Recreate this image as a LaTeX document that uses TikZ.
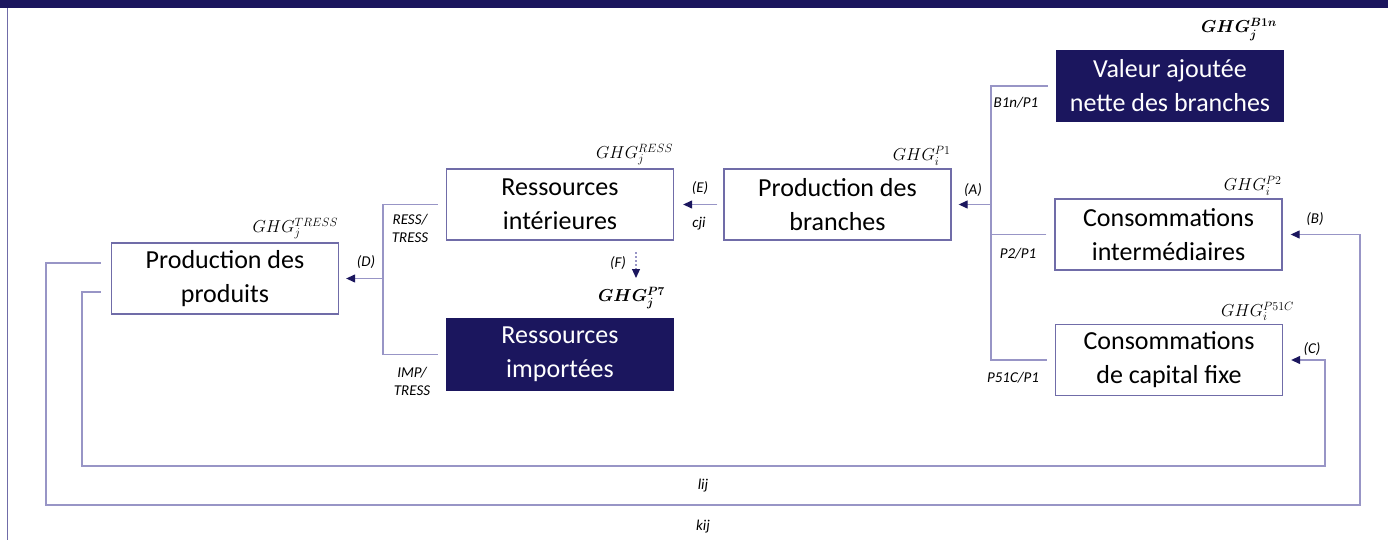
\documentclass[tikz,border=0pt]{standalone}
\usepackage{fontspec}
\setmainfont{Carlito}
\usepackage{amsmath}
\usetikzlibrary{arrows.meta,positioning,calc}
\definecolor{navy}{RGB}{27,22,94}
\definecolor{framec}{RGB}{112,108,168}
\definecolor{wirec}{RGB}{152,149,198}
\tikzset{
  boxw/.style={rectangle,draw=framec,line width=1.3pt,fill=white,minimum width=227pt,minimum height=71pt,align=center,inner sep=2pt,font=\fontsize{26}{34}\selectfont},
  boxf/.style={boxw,draw=navy,fill=navy,text=white},
  ghg/.style={inner sep=1pt,font=\fontsize{16.5}{18}\selectfont},
  lab/.style={inner sep=1pt,align=center,font=\fontsize{15}{18}\selectfont\itshape},
  cn/.style={draw=wirec,line width=1.2pt},
  ca/.style={cn,-{Triangle[length=9pt,width=8pt,color=navy]}},
  cad/.style={ca,dash pattern=on 2pt off 2pt}
}

\begin{document}
\begin{tikzpicture}[x=1pt,y=-1pt]
\useasboundingbox (0,0) rectangle (1388,540);
% frame
\fill[navy] (0,0) rectangle (1388,8);
\draw[framec,line width=1.2pt] (7.5,8) -- (7.5,540);
% boxes
\node[boxf] (vab) at (1170,86) {Valeur ajoutée\\nette des branches};
\node[boxw] (prb) at (837.5,204.5) {Production des\\branches};
\node[boxw] (rint) at (560,204.5) {Ressources\\intérieures};
\node[boxf] (rimp) at (560,354.5) {Ressources\\importées};
\node[boxw] (prp) at (225,278.5) {Production des\\produits};
\node[boxw] (ci) at (1168.5,234.5) {Consommations\\intermédiaires};
\node[boxw] (cck) at (1169,360) {Consommations\\de capital fixe};
% emissions
\node[ghg,anchor=south east] (gvab) at ([xshift=-6pt,yshift=8pt]vab.north east) {$\boldsymbol{GHG_j^{B1n}}$};
\node[ghg,anchor=south east] (gprb) at ([yshift=2pt]prb.north east) {$GHG_i^{P1}$};
\node[ghg,anchor=south east] (grint) at ([yshift=2pt]rint.north east) {$GHG_j^{RESS}$};
\node[ghg,anchor=south east] (grimp) at ([xshift=-8pt,yshift=8pt]rimp.north east) {$\boldsymbol{GHG_j^{P7}}$};
\node[ghg,anchor=south east] (gprp) at ([yshift=2pt]prp.north east) {$GHG_j^{TRESS}$};
\node[ghg,anchor=south east] (gci) at ([yshift=2pt]ci.north east) {$GHG_i^{P2}$};
\node[ghg,anchor=south east] (gcck) at ([xshift=12pt,yshift=2pt]cck.north east) {$GHG_i^{P51C}$};
% branches -> production
\coordinate (ja) at (991,204.5);
\draw[cn] ([xshift=-8pt]vab.west) -| (ja);
\draw[cn] ([xshift=-8pt]cck.west) -| (ja);
\draw[cn] ([xshift=-8pt]ci.west) -- (ci.west -| ja);
\draw[ca] (ja) -- ([xshift=7pt]prb.east);
\draw[ca] ([xshift=-6pt]prb.west) -- ([xshift=9pt]rint.east);
% ressources -> produits
\coordinate (jd) at (383,278.5);
\draw[cn] ([xshift=-8pt]rint.west) -| (jd);
\draw[cn] ([xshift=-8pt]rimp.west) -| (jd);
\draw[ca] (jd) -- ([xshift=7pt]prp.east);
\coordinate (f1) at (636,252);
\coordinate (f2) at (636,278);
\draw[cad] (f1) -- (f2);
% loops
\coordinate (kbl) at (46,505);
\coordinate (kbr) at (1360,505);
\draw[ca] ([xshift=-10pt,yshift=15.5pt]prp.west) -| (kbl) -- (kbr) |- ([xshift=8pt]ci.east);
\coordinate (lbl) at (82,466);
\coordinate (lbr) at (1325,466);
\draw[ca] ([xshift=-10pt,yshift=-13.5pt]prp.west) -| (lbl) -- (lbr) |- ([xshift=8pt]cck.east);
% labels
\node[lab] (la) at (973,190) {(A)};
\node[lab] (lb) at (1315,219) {(B)};
\node[lab] (lc) at (1312,349) {(C)};
\node[lab] (ld) at (366,262) {(D)};
\node[lab] (le) at (700,188) {(E)};
\node[lab] (lf) at (618,263) {(F)};
\node[lab] (lcji) at (699,224) {cji};
\node[lab] (lb1n) at (1016,103) {B1n/P1};
\node[lab] (lp2) at (1018,254) {P2/P1};
\node[lab] (lp51) at (1013,378) {P51C/P1};
\node[lab] (lress) at (410,228) {RESS/\\TRESS};
\node[lab] (limp) at (412,381) {IMP/\\TRESS};
\node[lab] (llij) at (703,486) {lij};
\node[lab] (lkij) at (703,527) {kij};
\end{tikzpicture}
\end{document}
